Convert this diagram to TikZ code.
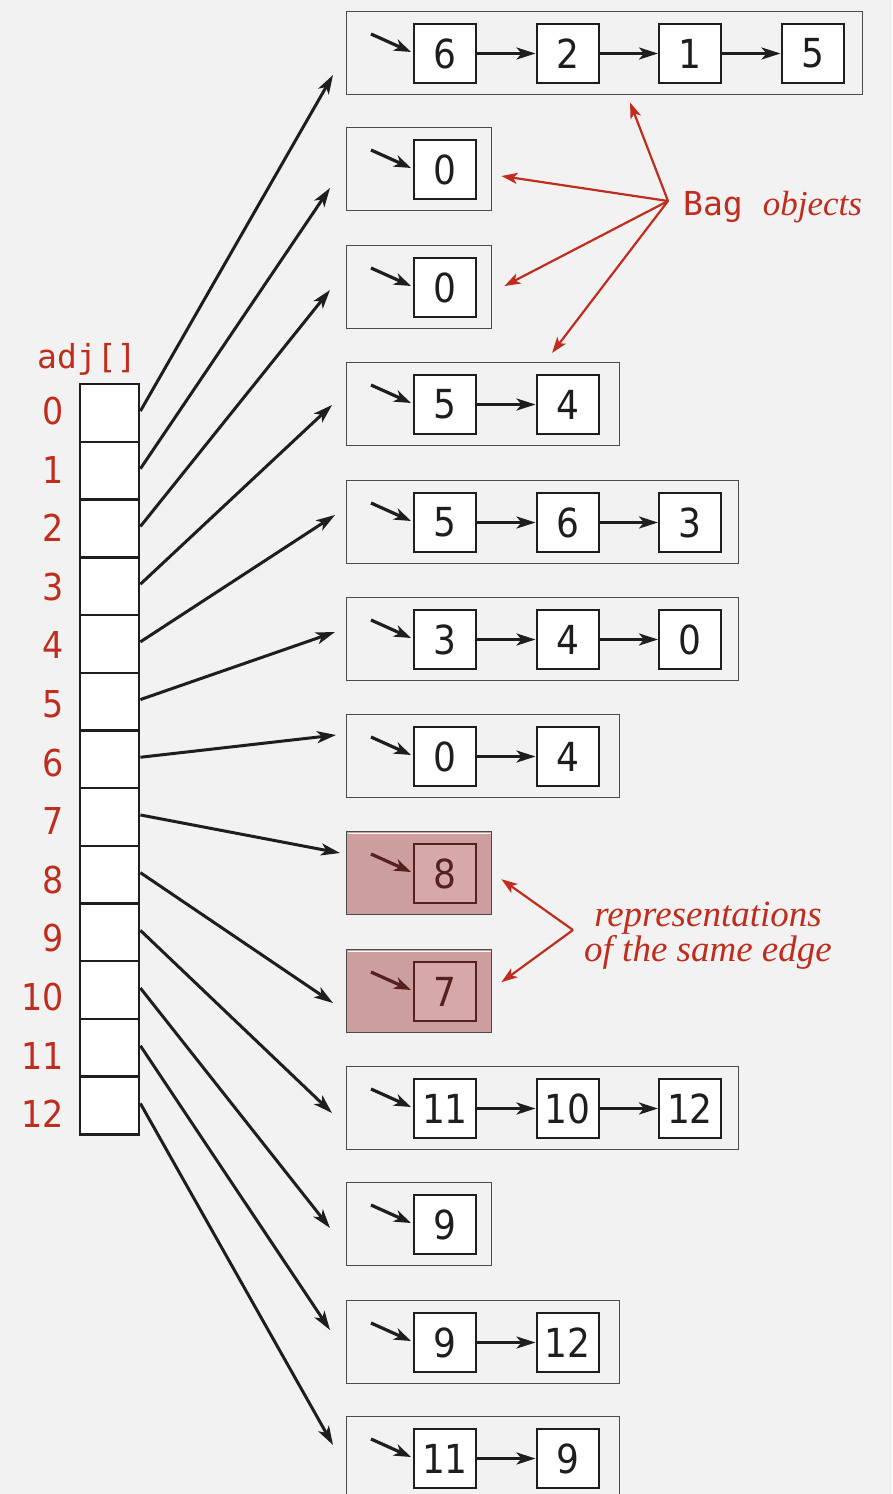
\documentclass[tikz,border=0pt]{standalone}
\usepackage{fontspec}
\setmainfont{DejaVu Sans}[FakeStretch=0.9]
\newfontfamily\monofam{DejaVu Sans Mono}
\newfontfamily\itfam{Liberation Serif}
\usetikzlibrary{arrows.meta,calc}
\definecolor{bgc}{HTML}{F2F2F2}
\definecolor{redc}{HTML}{BE2D1E}
\definecolor{inkc}{HTML}{1E1E1E}
\definecolor{hlbag}{HTML}{CC9E9E}
\definecolor{hlnode}{HTML}{D6A8A8}
\definecolor{hldark}{HTML}{55201E}
\tikzset{
  bagbox/.style={draw=black!70, line width=1.4, inner sep=0, minimum height=83, anchor=north west},
  hlbagbox/.style={bagbox, fill=hlbag},
  cellbox/.style={draw=inkc, fill=white, line width=2, inner sep=0, minimum width=62, minimum height=59,
     font=\fontsize{40}{40}\selectfont, text=inkc},
  hlcellbox/.style={cellbox, draw=hldark, fill=hlnode, text=hldark},
  arrbox/.style={draw=inkc, fill=white, line width=2.4, inner sep=0, minimum width=59, minimum height=57.7, anchor=north west},
  conn/.style={draw=inkc, line width=3, -{Stealth[length=19,width=12,inset=5]}},
  ptr/.style={draw=inkc, line width=3.2, -{Stealth[length=17,width=12,inset=5]}},
  redarr/.style={draw=redc, line width=2.2, -{Stealth[length=16,width=11,inset=4]}},
  idxlab/.style={text=redc, anchor=east, inner sep=0, font=\fontsize{37}{37}\selectfont},
}
\begin{document}
\begin{tikzpicture}[x=1pt,y=-1pt]
\fill[bgc] (0,0) rectangle (892,1494);
\useasboundingbox (0,0) rectangle (892,1494);

% adj array
\node[text=redc, anchor=south west, inner sep=0, font=\monofam\fontsize{33}{33}\selectfont] (adjlab) at (37,376) {adj[]};
\foreach \i in {0,...,12}{
  \node[arrbox] (a\i) at (79,{383+57.7*\i}) {};
  \node[idxlab] (l\i) at (64,{411+58.6*\i}) {\i};
}

% bags
\foreach \i/\top/\w/\vals in {
  0/11/516/{6,2,1,5},
  1/127/145/{0},
  2/245/145/{0},
  3/362/273/{5,4},
  4/480/392/{5,6,3},
  5/597/392/{3,4,0},
  6/714/273/{0,4},
  7/831/145/{8},
  8/949/145/{7},
  9/1066/392/{11,10,12},
  10/1182/145/{9},
  11/1300/273/{9,12},
  12/1416/273/{11,9}}{
  \ifnum\i=7 \def\bst{hlbagbox}\def\cst{hlcellbox}\def\pc{hldark}
  \else\ifnum\i=8 \def\bst{hlbagbox}\def\cst{hlcellbox}\def\pc{hldark}
  \else \def\bst{bagbox}\def\cst{cellbox}\def\pc{inkc}\fi\fi
  \node[\bst, minimum width=\w] (b\i) at (346,\top) {};
  \foreach \v [count=\k, remember=\k as \pk (initially 0)] in \vals {
    \node[\cst] (n\i-\k) at ({445+122.5*(\k-1)},{\top+42.5}) {\v};
    \ifnum\k>1 \draw[conn] (n\i-\pk.east) -- (n\i-\k.west); \fi
  }
  \draw[ptr, draw=\pc] ($(n\i-1.west)+(-42,-19.5)$) -- ($(n\i-1.west)+(-2,-1.5)$);
}
\draw[white, line width=1.5] ($(b7.north west)+(1.5,2.5)$) -- ($(b7.north east)+(-1.5,2.5)$);
\draw[white, line width=1.5] ($(b8.north west)+(1.5,2.5)$) -- ($(b8.north east)+(-1.5,2.5)$);

% pointers from adj[] to bags
\coordinate (t0) at (333,75);
\coordinate (t1) at (330,188);
\coordinate (t2) at (330,290);
\coordinate (t3) at (332,405);
\coordinate (t4) at (335,515);
\coordinate (t5) at (335,632);
\coordinate (t6) at (336,735);
\coordinate (t7) at (340,853);
\coordinate (t8) at (333,1003);
\coordinate (t9) at (332,1113);
\coordinate (t10) at (330,1228);
\coordinate (t11) at (330,1330);
\coordinate (t12) at (333,1445);
\foreach \i in {0,...,12}{
  \draw[conn] ($(a\i.east)+(0,-2)$) -- (t\i);
}

% Bag objects label
\node[anchor=west, inner sep=0, text=redc] (baglab) at (683,207)
  {{\monofam\fontsize{33}{33}\selectfont Bag}\hspace{20pt}{\itfam\itshape\fontsize{35}{35}\selectfont objects}};
\coordinate (f1) at ($(baglab.west)+(-15,-6)$);
\draw[redarr] (f1) -- ($(b0.south west)+(284,7)$);
\draw[redarr] (f1) -- ($(b1.north east)+(9,49)$);
\draw[redarr] (f1) -- ($(b2.north east)+(12,41)$);
\draw[redarr] (f1) -- ($(b3.north west)+(206,-9)$);

% representations label
\node[align=center, inner sep=0, text=redc, font=\itfam\itshape\fontsize{37}{33}\selectfont] (replab) at (708,936)
  {representations\\of the same edge};
\coordinate (f2) at (573,930);
\draw[redarr] (f2) -- ($(b7.east)+(9,6)$);
\draw[redarr] (f2) -- ($(b8.east)+(9,-9)$);
\end{tikzpicture}
\end{document}
